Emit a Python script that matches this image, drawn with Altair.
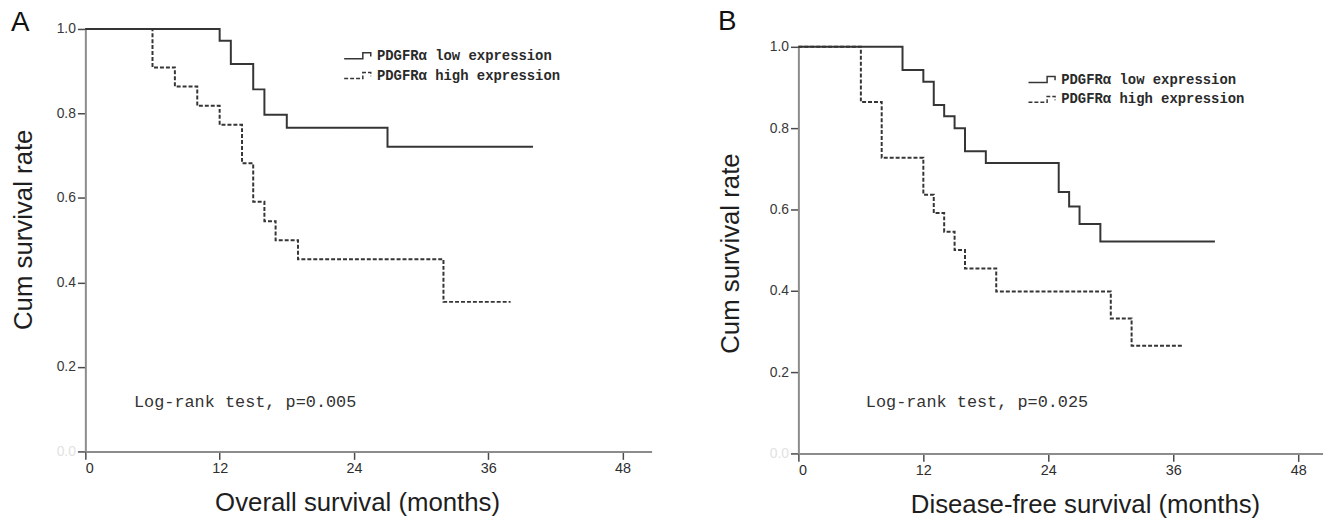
import altair as alt
import pandas as pd

# ---- data ----
groups = ["PDGFRα low expression", "PDGFRα high expression"]

a_low_t = [0, 12, 13, 15, 16, 18, 27, 40]
a_low_s = [1.0, 0.972, 0.917, 0.857, 0.797, 0.766, 0.721, 0.721]
a_high_t = [0, 6, 8, 10, 12, 14, 15, 16, 17, 19, 32, 38]
a_high_s = [1.0, 0.909, 0.864, 0.818, 0.773, 0.682, 0.591, 0.545, 0.5, 0.455, 0.354, 0.354]

b_low_t = [0, 10, 12, 13, 14, 15, 16, 18, 25, 26, 27, 29, 40]
b_low_s = [1.0, 0.943, 0.914, 0.857, 0.829, 0.8, 0.743, 0.714, 0.643, 0.607, 0.564, 0.521, 0.521]
b_high_t = [0, 6, 8, 12, 13, 14, 15, 16, 19, 30, 32, 37]
b_high_s = [1.0, 0.864, 0.727, 0.636, 0.591, 0.545, 0.5, 0.455, 0.398, 0.332, 0.265, 0.265]

x_ticks = [0, 12, 24, 36, 48]
y_ticks = [0.0, 0.2, 0.4, 0.6, 0.8, 1.0]

LINE = "#353535"
STEP_PATH = "M-1,0.75 L3.7,0.75 L3.7,-0.75 L5.7,-0.75 L5.7,0.2"


def panel(low_t, low_s, high_t, high_s, letter, xtitle, ptext, w, h, ytop, xmax,
          legx, legy, tx, ty, xtitle_x, ytitle_x, ytitle_y, title_offset):
    df = pd.DataFrame({
        "t": low_t + high_t,
        "s": low_s + high_s,
        "g": [groups[0]] * len(low_t) + [groups[1]] * len(high_t),
    })
    lines = alt.Chart(df).mark_line(
        interpolate="step-after", color=LINE, strokeWidth=2
    ).encode(
        x=alt.X("t:Q",
                scale=alt.Scale(domain=[0, xmax], nice=False, zero=True),
                axis=alt.Axis(values=x_ticks, title=xtitle, format="d",
                              titleX=xtitle_x, titleY=60, titleAlign="center",
                              titleBaseline="alphabetic", labelFontSize=14.5,
                              labelColor="#2e2e2e", labelPadding=2)),
        y=alt.Y("s:Q",
                scale=alt.Scale(domain=[0, 1], nice=False, range=[h, ytop]),
                axis=alt.Axis(values=y_ticks, format=".1f", title="Cum survival rate",
                              titleX=ytitle_x, titleY=ytitle_y, titleAlign="center",
                              titleBaseline="alphabetic", labelFontSize=14,
                              labelPadding=2,
                              labelColor=alt.condition("datum.value == 0",
                                                       alt.value("#e2e2e2"),
                                                       alt.value("#383838")))),
        strokeDash=alt.StrokeDash(
            "g:N",
            scale=alt.Scale(domain=groups, range=[[1, 0], [4, 2]]),
            legend=alt.Legend(
                title=None, orient="none", legendX=legx, legendY=legy,
                symbolType=STEP_PATH, symbolSize=64, symbolStrokeWidth=1.5,
                symbolStrokeColor=LINE, symbolFillColor="transparent",
                labelFont="Liberation Mono", labelFontWeight="bold",
                labelFontSize=14, labelColor="#2a2a2a", labelOffset=22,
                labelLimit=0, rowPadding=6,
            ),
        ),
    )
    txt = alt.Chart(pd.DataFrame({"label": [ptext]})).mark_text(
        align="left", baseline="middle", font="Liberation Mono",
        fontSize=17, color="#333333"
    ).encode(x=alt.value(tx), y=alt.value(ty), text="label:N")

    return alt.layer(lines, txt).properties(
        width=w, height=h,
        title=alt.TitleParams(letter, anchor="start", frame="bounds",
                              fontSize=28, font="Liberation Sans",
                              fontWeight="normal", color="#111111",
                              baseline="alphabetic", offset=title_offset),
    )


pa = panel(a_low_t, a_low_s, a_high_t, a_high_s, "A",
           "Overall survival (months)", "Log-rank test, p=0.005",
           571, 426, 0, 50.6, 258, 20, 49, 376, 274, -54, 202, -37)
pb = panel(b_low_t, b_low_s, b_high_t, b_high_s, "B",
           "Disease-free survival (months)", "Log-rank test, p=0.025",
           529, 428, 18, 50.38, 229, 44, 68, 376, 289, -60, 226, -29)

chart = alt.hconcat(pa, pb, spacing=67).resolve_scale(
    strokeDash="independent"
).resolve_legend(strokeDash="independent").properties(
    padding={"left": 3, "top": -2, "right": 0, "bottom": 0}
).configure_view(stroke=None).configure_axis(
    grid=False, domainColor="#8c8c8c", domainWidth=2, tickColor="#4a4a4a",
    tickWidth=1.5, tickSize=8, labelFont="Liberation Sans",
    titleFont="Liberation Sans", titleFontSize=26, titleFontWeight="normal",
    titleColor="#1e1e1e"
)

chart.save("out.html", embed_options={"renderer": "svg", "actions": False})
